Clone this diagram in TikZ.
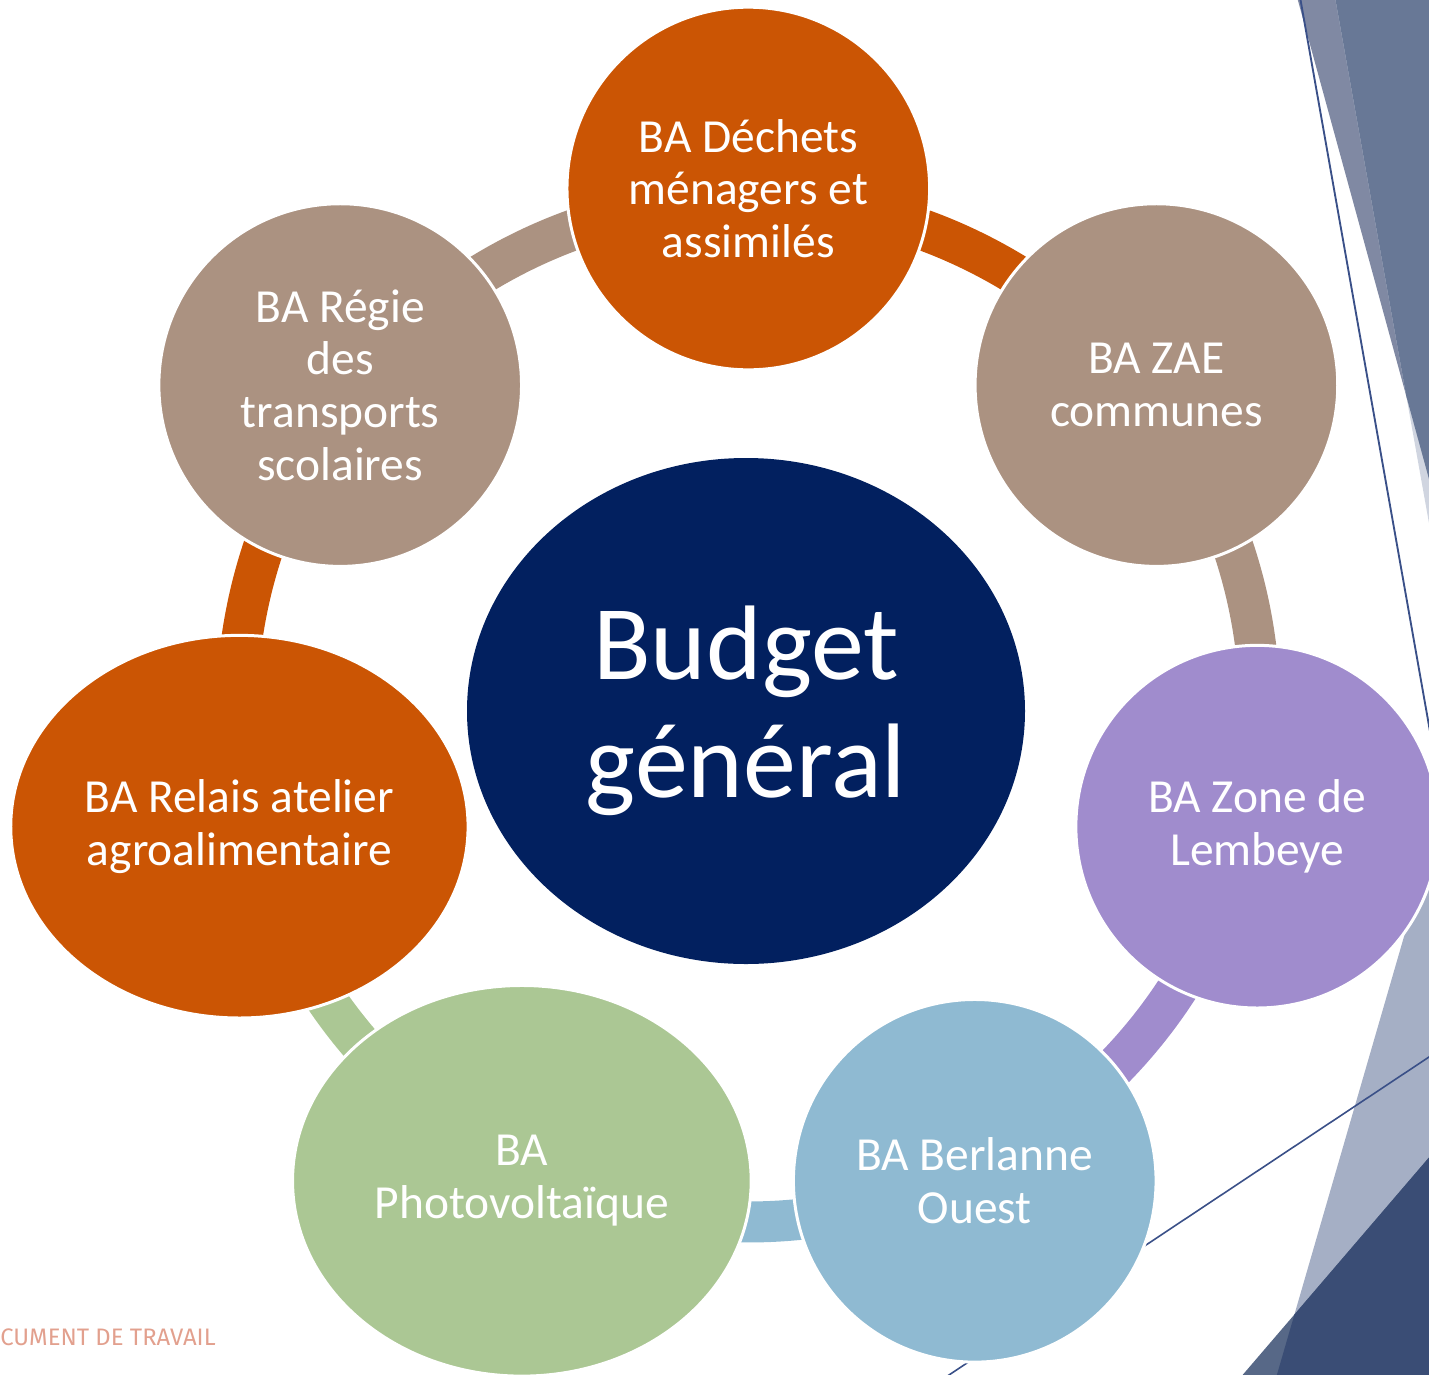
\documentclass[tikz,border=0pt]{standalone}
\usepackage{fontspec}
\setmainfont{Carlito}
\newfontfamily\notefont{Fira Sans}
\usetikzlibrary{shapes.geometric,calc}

\definecolor{cOrange}{HTML}{CB5504}
\definecolor{cTan}{HTML}{AB9281}
\definecolor{cPurple}{HTML}{A08CCD}
\definecolor{cBlue}{HTML}{8FBAD2}
\definecolor{cGreen}{HTML}{ABC794}
\definecolor{cNavy}{HTML}{02205F}
\definecolor{decA}{HTML}{8089A3}
\definecolor{decB}{HTML}{D0D5E0}
\definecolor{decAB}{HTML}{687896}
\definecolor{decC}{HTML}{A5AFC5}
\definecolor{decD}{HTML}{576887}
\definecolor{decCD}{HTML}{3A4D75}
\definecolor{decLine}{HTML}{3A5088}
\definecolor{noteC}{HTML}{E2A08E}

\begin{document}
\begin{tikzpicture}[x=0.75pt,y=-0.75pt,
  bubble/.style={circle, draw=white, line width=2.25pt, minimum size=272pt,
    inner sep=0pt, text=white, align=center, font=\fontsize{35.6}{39.6}\selectfont},
  oval/.style={ellipse, draw=white, line width=2.25pt, inner sep=0pt,
    text=white, align=center, font=\fontsize{35.6}{39.6}\selectfont},
  ring/.style={line width=30.75pt},
  thinline/.style={draw=decLine, line width=1.4pt}]

\useasboundingbox (0,0) rectangle (1429,1375);

% ---- background decorations (right side)
\fill[decA] (1297,-3) -- (1432,-3) -- (1432,490) -- cycle;
\fill[decB] (1335,-3) -- (1432,-3) -- (1432,540) -- cycle;
\begin{scope}
  \clip (1297,-3) -- (1432,-3) -- (1432,490) -- cycle;
  \fill[decAB] (1335,-3) -- (1432,-3) -- (1432,540) -- cycle;
\end{scope}
\draw[thinline] (1300,-3) -- (1431,737);

\fill[decC] (1432,840) -- (1276,1378) -- (1432,1378) -- cycle;
\fill[decD] (1432,1154) -- (1240,1378) -- (1432,1378) -- cycle;
\begin{scope}
  \clip (1432,840) -- (1276,1378) -- (1432,1378) -- cycle;
  \fill[decCD] (1432,1154) -- (1240,1378) -- (1432,1378) -- cycle;
\end{scope}
\draw[thinline, line width=1.2pt] (1140,1249) -- (1432,1055);
\draw[thinline, line width=1.2pt] (940,1381) -- (1000,1341);

% ---- ring connectors
\coordinate (O) at (748.3,710.5);
\draw[ring, cOrange] ($(O)+(90:383.625pt)$) arc[start angle=90, end angle=38.57, radius=383.625pt];
\draw[ring, cTan] ($(O)+(38.57:383.625pt)$) arc[start angle=38.57, end angle=-12.86, radius=383.625pt];
\draw[ring, cPurple] ($(O)+(-12.86:383.625pt)$) arc[start angle=-12.86, end angle=-64.29, radius=383.625pt];
\draw[ring, cBlue] ($(O)+(-64.29:383.625pt)$) arc[start angle=-64.29, end angle=-115.71, radius=383.625pt];
\draw[ring, cGreen] ($(O)+(-115.71:383.625pt)$) arc[start angle=-115.71, end angle=-167.14, radius=383.625pt];
\draw[ring, cOrange] ($(O)+(-167.14:383.625pt)$) arc[start angle=-167.14, end angle=-218.57, radius=383.625pt];
\draw[ring, cTan] ($(O)+(141.43:383.625pt)$) arc[start angle=141.43, end angle=90, radius=383.625pt];

% ---- nodes
\node[ellipse, fill=cNavy, minimum width=418.5pt, minimum height=379.5pt,
      inner sep=0pt, text=white, align=center,
      font=\fontsize{79.5}{88.6}\selectfont] (budget) at (746,711) {Budget\\général};

\node[bubble, fill=cOrange] (dechets) at ($(O)+(90:391.5pt)$) {BA Déchets\\ménagers et\\assimilés};
\node[bubble, fill=cTan] (zae) at ($(O)+(38.57:391.5pt)$) {BA ZAE\\communes};
\node[bubble, fill=cPurple] (lembeye) at ($(O)+(-12.86:391.5pt)$) {BA Zone de\\Lembeye};
\node[bubble, fill=cBlue] (berlanne) at ($(O)+(-64.29:391.5pt)$) {BA Berlanne\\Ouest};
\node[oval, fill=cGreen, minimum width=344pt, minimum height=293pt] (photo)
      at ($(O)+(-115.71:391.5pt)$) {BA\\Photovoltaïque};
\node[oval, fill=cOrange, minimum width=343pt, minimum height=287pt] (relais)
      at ($(O)+(-167.14:391.5pt)$) {BA Relais atelier\\agroalimentaire};
\node[bubble, fill=cTan] (regie) at ($(O)+(141.43:391.5pt)$) {BA Régie\\des\\transports\\scolaires};

% ---- footer text
\node[anchor=base west, inner sep=0pt, text=noteC, font=\notefont\fontsize{17.9}{21}\selectfont]
      (note) at (0,1345) {CUMENT DE TRAVAIL};
\end{tikzpicture}
\end{document}
